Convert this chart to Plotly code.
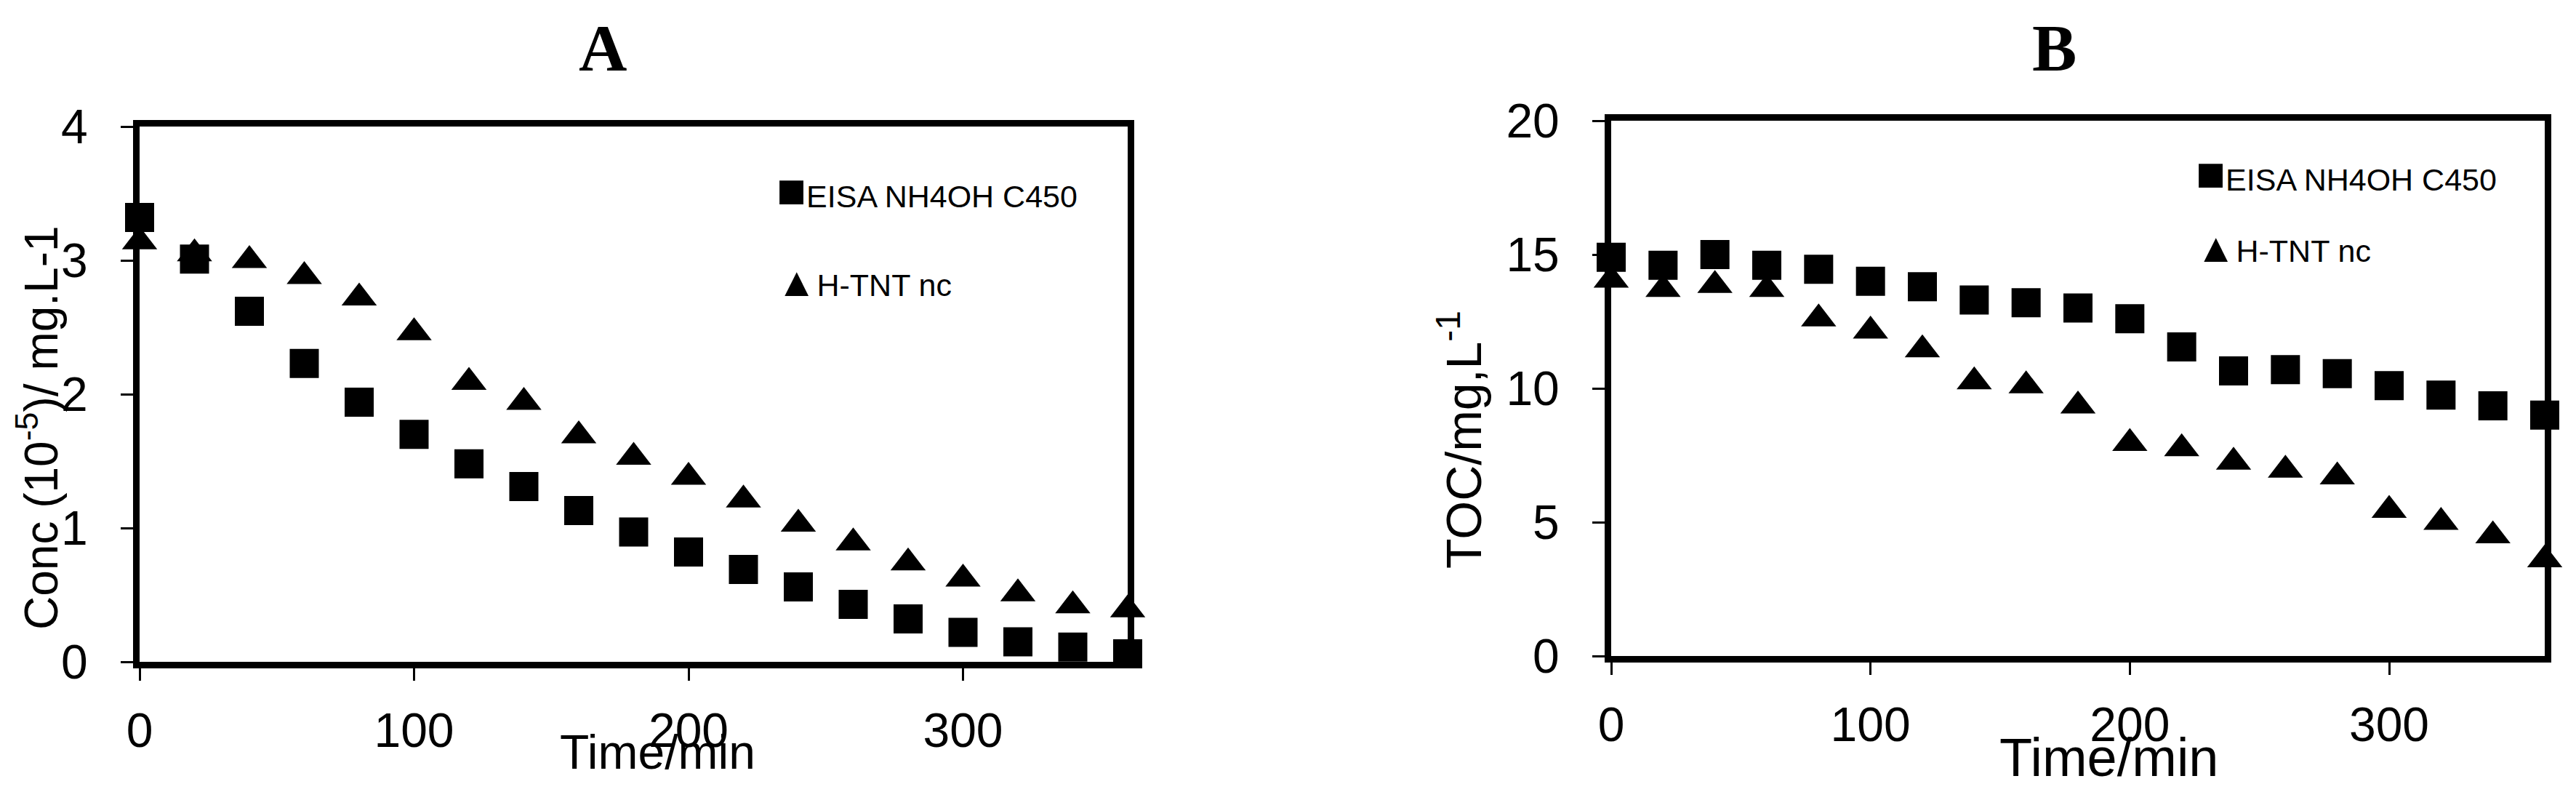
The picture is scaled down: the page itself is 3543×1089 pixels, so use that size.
import plotly.graph_objects as go

# sampling times (min), same for both panels
time_min = [0, 20, 40, 60, 80, 100, 120, 140, 160, 180,
            200, 220, 240, 260, 280, 300, 320, 340, 360]

# panel A : concentration (10^-5 mg/L)
conc_eisa = [3.32, 3.01, 2.62, 2.23, 1.94, 1.70, 1.48, 1.31, 1.13, 0.97,
             0.82, 0.69, 0.56, 0.43, 0.32, 0.22, 0.15, 0.11, 0.06]
conc_htnt = [3.14, 3.05, 3.00, 2.88, 2.72, 2.46, 2.09, 1.94, 1.69, 1.53,
             1.38, 1.21, 1.03, 0.89, 0.74, 0.62, 0.51, 0.42, 0.39]

# panel B : TOC (mg/L)
toc_eisa = [14.9, 14.6, 15.0, 14.6, 14.45, 14.0, 13.8, 13.3, 13.2, 13.0,
            12.6, 11.55, 10.65, 10.7, 10.55, 10.1, 9.75, 9.35, 9.0]
toc_htnt = [14.05, 13.7, 13.85, 13.7, 12.6, 12.15, 11.45, 10.25, 10.1, 9.35,
            7.95, 7.75, 7.25, 6.95, 6.7, 5.45, 5.0, 4.5, 3.6]

series_names = ["EISA NH4OH C450", "H-TNT nc"]

W, H = 3543, 1089
SANS = "Liberation Sans, Arial, sans-serif"
SERIF = "Liberation Serif, Times New Roman, serif"


def px_x(v):
    return v / W


def px_y(v):
    return 1 - v / H


fig = go.Figure()

# panel A
fig.add_trace(go.Scatter(x=time_min, y=conc_eisa, mode="markers", name=series_names[0],
                         marker=dict(symbol="square", size=40, color="black"),
                         cliponaxis=False, xaxis="x", yaxis="y"))
fig.add_trace(go.Scatter(x=time_min, y=conc_htnt, mode="markers", name=series_names[1],
                         marker=dict(symbol="triangle-up", size=42, color="black"),
                         cliponaxis=False, xaxis="x", yaxis="y"))
# panel B
fig.add_trace(go.Scatter(x=time_min, y=toc_eisa, mode="markers", name=series_names[0],
                         marker=dict(symbol="square", size=40, color="black"),
                         cliponaxis=False, xaxis="x2", yaxis="y2"))
fig.add_trace(go.Scatter(x=time_min, y=toc_htnt, mode="markers", name=series_names[1],
                         marker=dict(symbol="triangle-up", size=42, color="black"),
                         cliponaxis=False, xaxis="x2", yaxis="y2"))

axis_style = dict(showline=True, linecolor="black", linewidth=9, mirror=True,
                  ticks="outside", ticklen=17, tickwidth=3, tickcolor="black",
                  showgrid=False, zeroline=False, automargin=False,
                  tickfont=dict(family=SANS, size=66, color="black"))

fig.update_layout(
    template="none",
    width=W, height=H,
    margin=dict(l=0, r=0, t=0, b=0),
    paper_bgcolor="white", plot_bgcolor="white",
    showlegend=False,
    xaxis=dict(domain=[px_x(184), px_x(1543)], range=[0, 360], tickvals=[0, 100, 200, 300],
               anchor="y", ticklabelstandoff=12, **axis_style),
    yaxis=dict(domain=[px_y(902), px_y(166)], range=[0, 4], dtick=1,
               anchor="x", ticklabelstandoff=32, **axis_style),
    xaxis2=dict(domain=[px_x(2208), px_x(3492)], range=[0, 360], tickvals=[0, 100, 200, 300],
                anchor="y2", ticklabelstandoff=12, **axis_style),
    yaxis2=dict(domain=[px_y(894), px_y(158)], range=[0, 20], dtick=5,
                anchor="x2", ticklabelstandoff=32, **axis_style),
)

annots = []
# panel titles
annots.append(dict(text="<b>A</b>", x=px_x(821), y=px_y(58),
                   font=dict(family=SERIF, size=92, color="black")))
annots.append(dict(text="<b>B</b>", x=px_x(2817), y=px_y(58),
                   font=dict(family=SERIF, size=92, color="black")))

# axis titles
annots.append(dict(text="Time/min", x=px_x(896), y=px_y(1026),
                   font=dict(family=SANS, size=66, color="black")))
annots.append(dict(text="Time/min", x=px_x(2893), y=px_y(1033),
                   font=dict(family=SANS, size=74, color="black")))
annots.append(dict(text="Conc (10<sup>-5</sup>)/ mg.L-1", x=px_x(44), y=px_y(580), textangle=-90,
                   font=dict(family=SANS, size=64, color="black")))
annots.append(dict(text="TOC/mg,L<sup>-1</sup>", x=px_x(2000), y=px_y(597), textangle=-90,
                   font=dict(family=SANS, size=68, color="black")))

# in-plot legends (symbol glyph + series name)
sq = '<span style="font-size:68px">■</span>'
tri = '<span style="font-size:56px">▲</span>'
legend_rows = [
    (sq + series_names[0], 1058, 253, 43),
    (tri + series_names[1], 1058, 379, 43),
    (sq + series_names[0], 3010, 230, 43),
    (tri + series_names[1], 3010, 332, 43),
]
for txt, lx, ly, fs in legend_rows:
    annots.append(dict(text=txt, x=px_x(lx), y=px_y(ly), xanchor="left",
                       font=dict(family=SANS, size=fs, color="black")))

for a in annots:
    a.setdefault("xref", "paper")
    a.setdefault("yref", "paper")
    a.setdefault("showarrow", False)
    a.setdefault("xanchor", "center")
    a.setdefault("yanchor", "middle")
    fig.add_annotation(**a)

fig.write_html("out.html")
